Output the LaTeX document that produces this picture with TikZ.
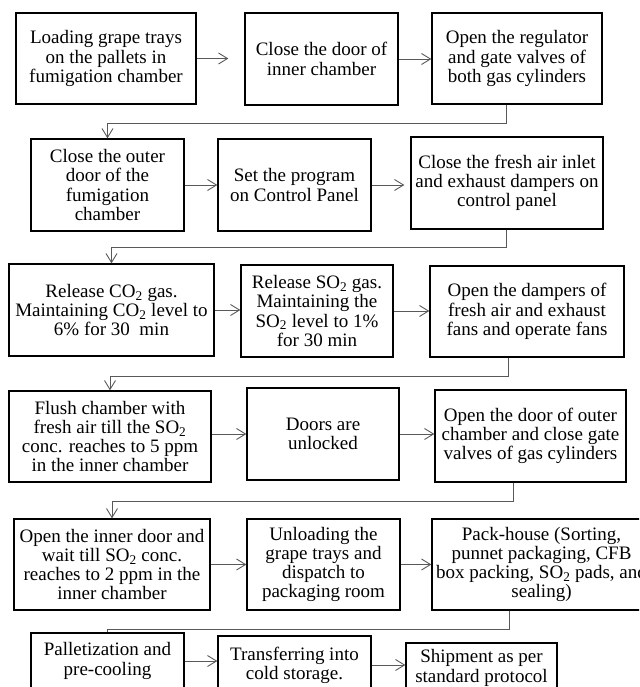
\documentclass[tikz,border=0pt]{standalone}
\usepackage{fontspec}
\setmainfont{Liberation Serif}
\usepackage{tikz}
\usetikzlibrary{arrows.meta}
\tikzstyle{stp_box} = [rectangle, draw=black, line width=1.3pt, align=center, inner sep=2pt, font=\fontsize{19}{19.2}\selectfont]
\tikzstyle{stp_link} = [draw=black!65, line width=0.9pt]
\newcommand{\sotwo}{SO\textsubscript{2}}
\newcommand{\cotwo}{CO\textsubscript{2}}

\begin{document}
\begin{tikzpicture}[x=1pt,y=-1pt,>={Straight Barb[length=9pt,width=11pt]}]
\useasboundingbox (0,0) rectangle (639,687);
\clip (0,0) rectangle (639,687);
\node [stp_box, minimum width=180pt, minimum height=91pt] (load) at (106,58.5) {Loading grape trays\\on the pallets in\\fumigation chamber};
\node [stp_box, minimum width=153pt, minimum height=92pt] (inner) at (321.5,59) {Close the door of\\inner chamber};
\node [stp_box, minimum width=170pt, minimum height=91pt] (valves) at (517,58.5) {Open the regulator\\and gate valves of\\both gas cylinders};
\node [stp_box, minimum width=153pt, minimum height=92pt] (outer) at (107.5,185) {Close the outer\\door of the\\fumigation\\chamber};
\node [stp_box, minimum width=153pt, minimum height=92pt] (program) at (294.5,185) {Set the program\\on Control Panel};
\node [stp_box, minimum width=192pt, minimum height=92pt] (inlet) at (507,183) {Close the fresh air inlet\\and exhaust dampers on\\control panel};
\node [stp_box, minimum width=205pt, minimum height=92pt] (relco) at (111.5,310) {Release \cotwo{} gas.\\Maintaining \cotwo{} level to\\6\% for 30\ \ min};
\node [stp_box, minimum width=152pt, minimum height=92pt] (relso) at (317,311) {Release \sotwo{} gas.\\Maintaining the\\\sotwo{} level to 1\%\\for 30 min};
\node [stp_box, minimum width=194pt, minimum height=91pt] (fans) at (527,311.5) {Open the dampers of\\fresh air and exhaust\\fans and operate fans};
\node [stp_box, minimum width=202pt, minimum height=91pt] (flush) at (110,436.5) {Flush chamber with\\fresh air till the \sotwo\\conc. reaches to 5 ppm\\in the inner chamber};
\node [stp_box, minimum width=152pt, minimum height=92pt] (unlock) at (323,434) {Doors are\\unlocked};
\node [stp_box, minimum width=191pt, minimum height=92pt] (gates) at (530.5,436) {Open the door of outer\\chamber and close gate\\valves of gas cylinders};
\node [stp_box, minimum width=196pt, minimum height=91pt] (wait) at (112,564.5) {Open the inner door and\\wait till \sotwo{} conc.\\reaches to 2 ppm in the\\inner chamber};
\node [stp_box, minimum width=153pt, minimum height=91pt] (unload) at (323.5,564.5) {Unloading the\\grape trays and\\dispatch to\\packaging room};
\node [stp_box, minimum width=219pt, minimum height=91pt] (pack) at (541.5,564.5) {Pack-house (Sorting,\\punnet packaging, CFB\\box packing, \sotwo{} pads, and\\sealing)};
\node [stp_box, minimum width=153pt, minimum height=56pt] (pallet) at (107.5,661) {Palletization and\\pre-cooling};
\node [stp_box, minimum width=153pt, minimum height=58pt] (cold) at (294.5,665) {Transferring into\\cold storage.};
\node [stp_box, minimum width=151pt, minimum height=50pt] (ship) at (481.5,668) {Shipment as per\\standard protocol};

\draw [stp_link,->,shorten >=16pt] (load.east) -- (load.east -| inner.west);
\draw [stp_link,->] (inner.east) -- (inner.east -| valves.west);
\draw [stp_link,->] (outer.east) -- (outer.east -| program.west);
\draw [stp_link,->,shorten >=6pt] (program.east) -- (program.east -| inlet.west);
\draw [stp_link,->] (relco.east) -- (relco.east -| relso.west);
\draw [stp_link,->] (relso.east) -- (relso.east -| fans.west);
\draw [stp_link,->] (flush.east |- unlock) -- (unlock.west);
\draw [stp_link,->] (unlock.east) -- (unlock.east -| gates.west);
\draw [stp_link,->] (wait.east) -- (wait.east -| unload.west);
\draw [stp_link,->] (unload.east) -- (unload.east -| pack.west);
\draw [stp_link,->] (pallet.east) -- (pallet.east -| cold.west);
\draw [stp_link,->] (cold.east) -- (cold.east -| ship.west);

\coordinate (t1) at (506,123);
\coordinate (t2) at (506,247);
\coordinate (t3) at (508,376);
\coordinate (t4) at (513,501);
\coordinate (t5) at (509,629);
\draw [stp_link,->] (valves.south -| t1) -- (t1) -| (outer.north);
\draw [stp_link,->] (inlet.south -| t2) -- (t2) -| (relco.north);
\draw [stp_link,->] (fans.south -| t3) -- (t3) -| (flush.north);
\draw [stp_link,->] (gates.south -| t4) -- (t4) -| (wait.north);
\draw [stp_link] (pack.south -| t5) -- (t5) -| (pallet.north);
\end{tikzpicture}
\end{document}
